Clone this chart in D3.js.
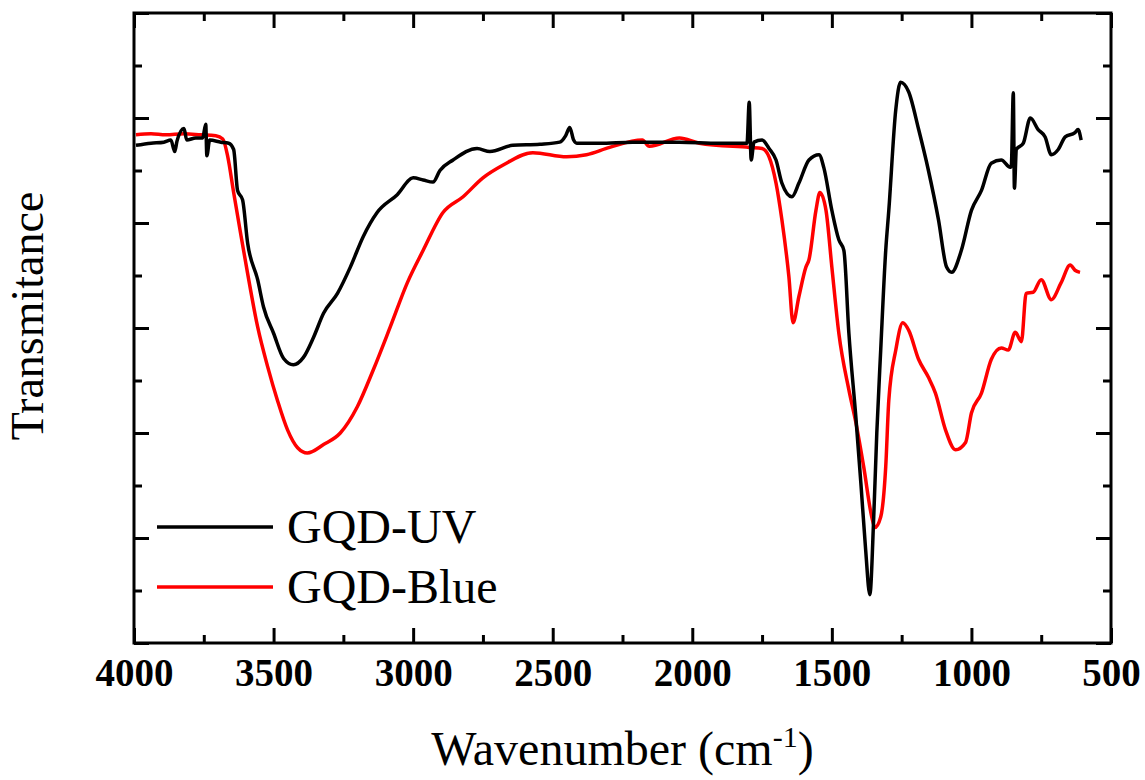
<!DOCTYPE html>
<html>
<head>
<meta charset="utf-8">
<script src="https://cdnjs.cloudflare.com/ajax/libs/d3/7.8.5/d3.min.js"></script>
<style>
  body { margin: 0; background: #fff; }
  svg { display: block; }
</style>
</head>
<body>
<div id="chart1"></div>
<script>
var w = 1145,
  h = 780;

// GQD-UV (black) - wavenumber / transmitance
var uvWave = [3993,3939,3893,3868,3854,3846,3821,3811,3779,3754,3743,3739,3729,3689,3661,3643,3629,3611,3593,3557,
  3536,3500,3464,3429,3393,3357,3321,3271,3225,3179,3129,3057,3000,2964,2929,2904,2857,2771,2725,2643,
  2546,2475,2454,2439,2425,2414,2332,2214,2046,1904,1804,1796,1789,1779,1750,1725,1700,1679,1643,1618,
  1582,1546,1529,1500,1475,1457,1439,1414,1396,1379,1364,1350,1339,1325,1307,1296,1271,1254,1225,1189,
  1154,1118,1089,1071,1036,1000,964,929,893,861,857,850,846,839,814,789,761,736,714,689,
  664,629,618,607];
var uvT = [47.4,47.6,47.7,47.9,46.8,47.8,49.0,47.9,48.1,48.1,49.4,46.4,47.9,47.7,47.6,47.0,43.1,42.2,38.1,34.6,
  32.0,29.5,27.1,26.5,27.2,29.1,31.4,33.3,35.8,38.7,41.0,42.7,44.3,44.1,43.9,45.0,46.0,47.1,46.8,47.4,
  47.5,47.7,48.3,49.1,47.9,47.6,47.6,47.7,47.7,47.6,47.6,51.5,46.0,47.7,47.9,47.1,46.0,43.8,42.5,43.8,
  46.0,46.5,45.3,41.2,38.4,37.4,29.5,21.5,15.2,8.9,4.6,12.0,20.0,27.9,37.4,41.2,50.8,53.4,52.5,48.9,
  45.0,40.3,35.8,35.3,37.4,41.2,43.1,45.7,46.0,45.3,45.5,52.4,43.3,47.0,47.6,50.0,48.9,48.2,46.5,47.0,
  48.2,48.6,48.9,47.9];

// GQD-Blue (red)
var blueWave = [3993,3939,3886,3821,3761,3707,3682,3664,3643,3618,3593,3557,3521,3486,3450,3414,3379,3321,3261,3200,
  3143,3082,3021,2964,2893,2821,2750,2679,2571,2450,2379,2296,2179,2154,2046,1975,1796,1750,1725,1700,
  1679,1654,1639,1618,1593,1582,1557,1543,1521,1500,1475,1439,1414,1386,1357,1346,1325,1307,1296,1271,
  1246,1225,1189,1154,1129,1093,1057,1021,1000,964,929,893,868,843,821,804,779,750,714,679,
  646,629,611];
var blueT = [48.4,48.5,48.4,48.5,48.4,48.3,48.0,46.3,42.9,39.0,35.2,30.1,26.3,23.1,20.3,18.6,18.1,18.9,20.0,22.5,
  26.0,30.1,34.3,37.4,41.0,42.5,44.3,45.5,46.7,46.3,46.5,47.2,47.9,47.3,48.1,47.6,47.2,47.1,46.3,43.8,
  40.3,34.9,30.5,33.0,35.8,36.5,41.2,42.9,41.2,35.8,29.5,24.1,21.0,16.8,12.0,11.0,12.0,16.8,23.1,27.9,
  30.5,29.8,27.0,25.3,23.8,20.3,18.4,19.1,21.9,23.8,27.0,28.1,27.9,29.6,28.7,33.3,33.4,34.6,32.7,34.3,
  36.0,35.5,35.3];

var xTicks = [4000,3500,3000,2500,2000,1500,1000,500];
var xMinor = [3750,3250,2750,2250,1750,1250,750];
var yTicks = [0,10,20,30,40,50,60];
var yMinor = [5,15,25,35,45,55];

var seriesNames = ["GQD-UV", "GQD-Blue"];
var seriesColors = ["#000000", "#ff0000"];

var pLeft = 134, pRight = 1111, pTop = 13, pBottom = 643;
var font = "'Liberation Serif', 'Times New Roman', serif";

draw();

function zip(a, b) {
  var out = [];
  for (var i = 0; i < a.length; i++) out.push([a[i], b[i]]);
  return out;
}

function draw() {
  var svg = d3.select("#chart1").append("svg").attr("width", w).attr("height", h);

  var x = d3.scaleLinear().domain([4000, 500]).range([pLeft, pRight]);
  var y = d3.scaleLinear().domain([0, 60]).range([pBottom, pTop]);

  var line = d3.line().curve(d3.curveMonotoneX)
    .x(function (d) { return x(d[0]); }).y(function (d) { return y(d[1]); });

  // curves
  var curves = [zip(uvWave, uvT), zip(blueWave, blueT)];
  // red drawn first, black on top like the picture
  svg.append("path").datum(curves[1]).attr("d", line)
    .style("fill", "none").style("stroke", seriesColors[1]).style("stroke-width", 3.5).style("stroke-linejoin", "round");
  svg.append("path").datum(curves[0]).attr("d", line)
    .style("fill", "none").style("stroke", seriesColors[0]).style("stroke-width", 3.5).style("stroke-linejoin", "round");

  // axes, ticks pointing inward on all 4 sides
  var major = 15, minor = 8;
  function styleAxis(g) {
    g.select(".domain").remove();
    g.selectAll(".tick line").style("stroke", "#000").style("stroke-width", 3);
  }

  svg.append("g").attr("transform", "translate(0," + pBottom + ")")
    .call(d3.axisBottom(x).tickValues(xTicks).tickSize(-major).tickPadding(15).tickFormat(d3.format("d")))
    .call(styleAxis)
    .selectAll("text").style("font-family", font).style("font-size", "39px").style("font-weight", "bold").style("fill", "#000");
  svg.append("g").attr("transform", "translate(0," + pBottom + ")")
    .call(d3.axisBottom(x).tickValues(xMinor).tickSize(-minor).tickFormat("")).call(styleAxis);
  svg.append("g").attr("transform", "translate(0," + pTop + ")")
    .call(d3.axisTop(x).tickValues(xTicks).tickSize(-major).tickFormat("")).call(styleAxis);
  svg.append("g").attr("transform", "translate(0," + pTop + ")")
    .call(d3.axisTop(x).tickValues(xMinor).tickSize(-minor).tickFormat("")).call(styleAxis);

  svg.append("g").attr("transform", "translate(" + pLeft + ",0)")
    .call(d3.axisLeft(y).tickValues(yTicks).tickSize(-major).tickFormat("")).call(styleAxis);
  svg.append("g").attr("transform", "translate(" + pLeft + ",0)")
    .call(d3.axisLeft(y).tickValues(yMinor).tickSize(-minor).tickFormat("")).call(styleAxis);
  svg.append("g").attr("transform", "translate(" + pRight + ",0)")
    .call(d3.axisRight(y).tickValues(yTicks).tickSize(-major).tickFormat("")).call(styleAxis);
  svg.append("g").attr("transform", "translate(" + pRight + ",0)")
    .call(d3.axisRight(y).tickValues(yMinor).tickSize(-minor).tickFormat("")).call(styleAxis);

  // frame
  svg.append("rect").attr("x", pLeft).attr("y", pTop).attr("width", pRight - pLeft).attr("height", pBottom - pTop)
    .style("fill", "none").style("stroke", "#000").style("stroke-width", 3);

  // axis titles
  var xt = svg.append("text").attr("x", (pLeft + pRight) / 2).attr("y", 765).attr("text-anchor", "middle")
    .style("font-family", font).style("font-size", "48px").style("fill", "#000");
  xt.append("tspan").text("Wavenumber (cm");
  xt.append("tspan").attr("dy", -18).style("font-size", "30px").text("-1");
  xt.append("tspan").attr("dy", 18).text(")");

  svg.append("text").attr("transform", "translate(43,316) rotate(-90)").attr("text-anchor", "middle")
    .style("font-family", font).style("font-size", "46px").style("fill", "#000").text("Transmitance");

  // legend
  var legendY = [527, 587];
  for (var i = 0; i < seriesNames.length; i++) {
    svg.append("line").attr("x1", 157).attr("x2", 273).attr("y1", legendY[i]).attr("y2", legendY[i])
      .style("stroke", seriesColors[i]).style("stroke-width", 3.5);
    svg.append("text").attr("x", 287).attr("y", legendY[i] + 16)
      .style("font-family", font).style("font-size", "48px").style("fill", "#000").text(seriesNames[i]);
  }
}
</script>
</body>
</html>
